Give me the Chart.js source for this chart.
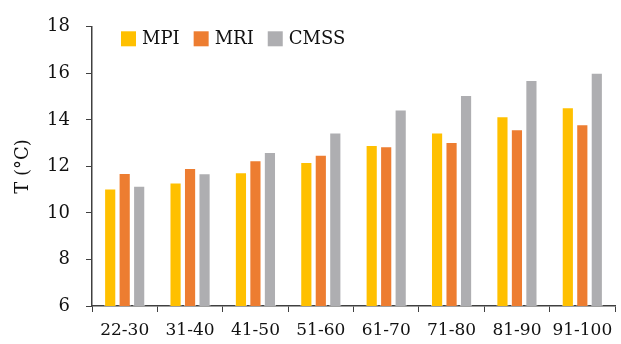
<!DOCTYPE html>
<html>
<head>
<meta charset="utf-8">
<script src="https://cdn.jsdelivr.net/npm/chart.js@4/dist/chart.umd.min.js"></script>
<style>
html,body{margin:0;padding:0;background:#fff;}
#wrap{width:621px;height:344px;position:relative;}
</style>
</head>
<body>
<div id="wrap"><canvas id="c" width="621" height="344"></canvas></div>
<script>
const categories = ['22-30','31-40','41-50','51-60','61-70','71-80','81-90','91-100'];
const seriesNames = ['MPI','MRI','CMSS'];
const mpi  = [11.05, 11.31, 11.75, 12.19, 12.92, 13.46, 14.16, 14.54];
const mri  = [11.72, 11.93, 12.26, 12.50, 12.87, 13.05, 13.60, 13.81];
const cmss = [11.17, 11.71, 12.62, 13.46, 14.45, 15.07, 15.71, 16.03];
const yTicks = [6, 8, 10, 12, 14, 16, 18];
const yTitle = 'T (°C)';

const colors = ['#FFC000', '#ED7D31', '#AEAEB1'];
const FONT = '"DejaVu Serif", serif';
const TEXT = '#111111';
const AXIS = '#404040';

const legendPlugin = {
  id: 'innerLegend',
  afterDraw(chart) {
    const ctx = chart.ctx;
    const area = chart.chartArea;
    let x = area.left + 29;
    const yMid = area.top + 12;
    ctx.save();
    ctx.font = '18px ' + FONT;
    ctx.textBaseline = 'middle';
    ctx.textAlign = 'left';
    chart.data.datasets.forEach((ds) => {
      ctx.fillStyle = ds.backgroundColor;
      ctx.fillRect(x, yMid - 7.5, 15, 15);
      ctx.fillStyle = TEXT;
      ctx.fillText(ds.label, x + 21, yMid + 1);
      x += 21 + ctx.measureText(ds.label).width + 14;
    });
    ctx.restore();
  }
};

new Chart(document.getElementById('c'), {
  type: 'bar',
  data: {
    labels: categories,
    datasets: [
      {label: seriesNames[0], data: mpi,  backgroundColor: colors[0]},
      {label: seriesNames[1], data: mri,  backgroundColor: colors[1]},
      {label: seriesNames[2], data: cmss, backgroundColor: colors[2]}
    ].map(d => Object.assign(d, {
      borderColor: 'rgba(255,255,255,0.55)', borderWidth: 1,
      categoryPercentage: 0.665, barPercentage: 0.84
    }))
  },
  plugins: [legendPlugin],
  options: {
    responsive: false,
    animation: false,
    devicePixelRatio: 1,
    layout: {padding: {top: 25, right: 6, left: 0, bottom: 0}},
    plugins: {legend: {display: false}, tooltip: {enabled: false}},
    scales: {
      x: {
        offset: true,
        grid: {display: true, offset: true, drawOnChartArea: false, tickLength: 6, color: AXIS, lineWidth: 1},
        border: {display: true, color: AXIS, width: 1.5},
        ticks: {color: TEXT, font: {family: FONT, size: 17}, padding: 8, maxRotation: 0, autoSkip: false},
        afterFit(s) { s.height = 38; }
      },
      y: {
        min: 6, max: 18,
        afterBuildTicks(s) { s.ticks = yTicks.map(v => ({value: v})); },
        grid: {display: true, drawOnChartArea: false, tickLength: 6, color: AXIS, lineWidth: 1},
        border: {display: true, color: AXIS, width: 1.5},
        ticks: {color: TEXT, font: {family: FONT, size: 18}, padding: 16},
        title: {display: true, text: yTitle, color: TEXT, font: {family: FONT, size: 18}, padding: {top: 13, bottom: 0}},
        afterFit(s) { s.width = 92; }
      }
    }
  }
});
</script>
</body>
</html>
